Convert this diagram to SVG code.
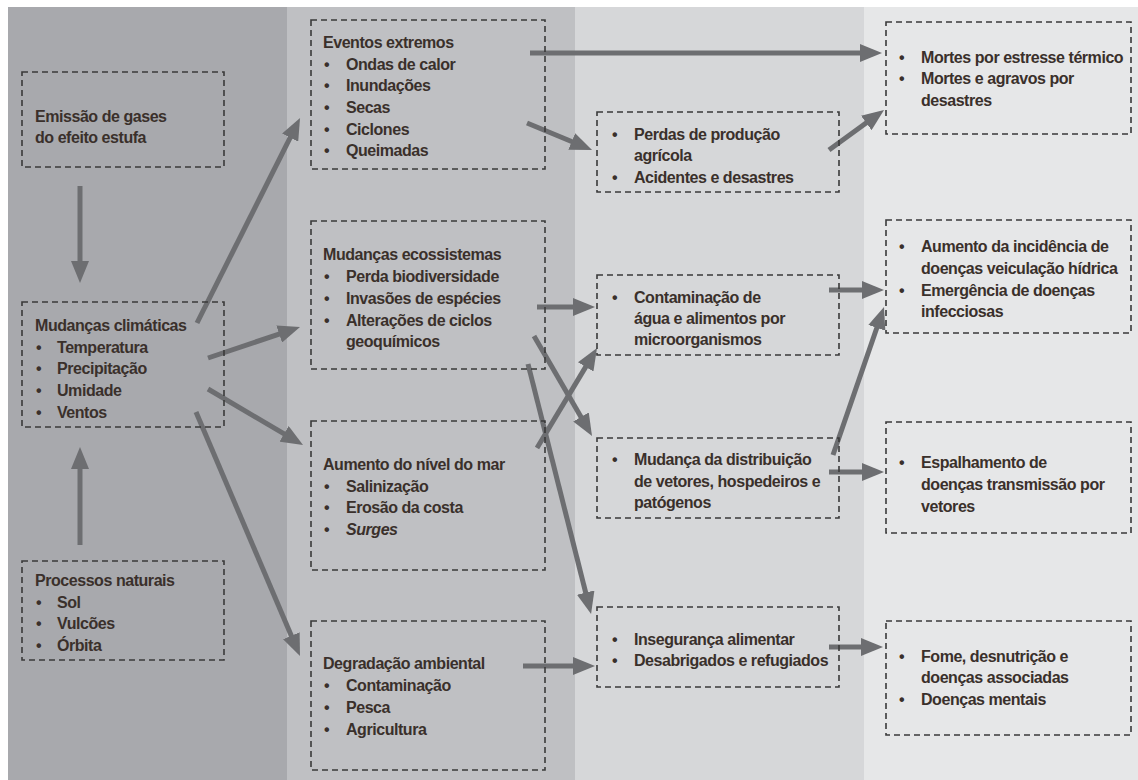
<svg xmlns="http://www.w3.org/2000/svg" width="1138" height="780" viewBox="0 0 1138 780">
<style>
  text { font-family: "Liberation Sans", Arial, sans-serif; font-weight: bold; font-size: 16px; letter-spacing: -0.45px; fill: #3a302b; }
  .box { fill: none; stroke: #3a3a3a; stroke-width: 1.6; stroke-dasharray: 6 4; }
  .arr { stroke: #6d6e71; stroke-width: 5; fill: none; marker-end: url(#ah); }
  .it { font-style: italic; }
</style>
<defs>
  <marker id="ah" markerUnits="userSpaceOnUse" markerWidth="22" markerHeight="18" refX="7" refY="9" orient="auto">
    <path d="M0,0 L22,9 L0,18 Z" fill="#6d6e71"/>
  </marker>
</defs>
<rect x="0" y="0" width="1138" height="780" fill="#ffffff"/>
<rect x="8" y="7" width="279" height="773" fill="#a8a9ad"/>
<rect x="287" y="7" width="288" height="773" fill="#bfc0c3"/>
<rect x="575" y="7" width="289" height="773" fill="#d6d7d9"/>
<rect x="864" y="7" width="274" height="773" fill="#e6e7e8"/>

<g id="connectors">
  <line class="arr" x1="80" y1="186" x2="80" y2="268"/>
  <line class="arr" x1="80" y1="545" x2="80" y2="462"/>
  <line class="arr" x1="197" y1="323" x2="293.3" y2="131.4"/>
  <line class="arr" x1="208" y1="358" x2="285.8" y2="331.8"/>
  <line class="arr" x1="208" y1="389" x2="290.1" y2="437.4"/>
  <line class="arr" x1="196" y1="412" x2="294.1" y2="642.2"/>
  <line class="arr" x1="530" y1="53" x2="867" y2="53"/>
  <line class="arr" x1="527" y1="123" x2="578.2" y2="144.2"/>
  <line class="arr" x1="829" y1="150" x2="871.9" y2="118.8"/>
  <line class="arr" x1="537" y1="307" x2="580" y2="307"/>
  <line class="arr" x1="534" y1="336" x2="584.5" y2="423"/>
  <line class="arr" x1="528" y1="364" x2="587.4" y2="599.4"/>
  <line class="arr" x1="537" y1="448" x2="589.3" y2="360.9"/>
  <line class="arr" x1="523" y1="666" x2="580" y2="666"/>
  <line class="arr" x1="829" y1="290" x2="869" y2="290"/>
  <line class="arr" x1="833" y1="455" x2="879.1" y2="321.2"/>
  <line class="arr" x1="829" y1="472" x2="869" y2="472"/>
  <line class="arr" x1="829" y1="647" x2="868" y2="647"/>
</g>

<g id="emissao">
  <rect class="box" x="22" y="72" width="202" height="95"/>
  <text x="35" y="122">Emissão de gases</text>
  <text x="35" y="143">do efeito estufa</text>
</g>
<g id="mudancas-climaticas">
  <rect class="box" x="22" y="302" width="202" height="125"/>
  <text x="35" y="331">Mudanças climáticas</text>
  <text x="36" y="353">•</text><text x="57" y="353">Temperatura</text>
  <text x="36" y="374">•</text><text x="57" y="374">Precipitação</text>
  <text x="36" y="396">•</text><text x="57" y="396">Umidade</text>
  <text x="36" y="418">•</text><text x="57" y="418">Ventos</text>
</g>
<g id="processos-naturais">
  <rect class="box" x="22" y="561" width="202" height="99"/>
  <text x="35" y="586">Processos naturais</text>
  <text x="36" y="608">•</text><text x="57" y="608">Sol</text>
  <text x="36" y="629">•</text><text x="57" y="629">Vulcões</text>
  <text x="36" y="651">•</text><text x="57" y="651">Órbita</text>
</g>

<g id="eventos-extremos">
  <rect class="box" x="311" y="20" width="234" height="149"/>
  <text x="323" y="48">Eventos extremos</text>
  <text x="324" y="69.5">•</text><text x="346" y="69.5">Ondas de calor</text>
  <text x="324" y="91">•</text><text x="346" y="91">Inundações</text>
  <text x="324" y="113">•</text><text x="346" y="113">Secas</text>
  <text x="324" y="134.5">•</text><text x="346" y="134.5">Ciclones</text>
  <text x="324" y="156">•</text><text x="346" y="156">Queimadas</text>
</g>
<g id="mudancas-ecossistemas">
  <rect class="box" x="311" y="221" width="234" height="148"/>
  <text x="323" y="260">Mudanças ecossistemas</text>
  <text x="324" y="282">•</text><text x="346" y="282">Perda biodiversidade</text>
  <text x="324" y="304">•</text><text x="346" y="304">Invasões de espécies</text>
  <text x="324" y="326">•</text><text x="346" y="326">Alterações de ciclos</text>
  <text x="346" y="347">geoquímicos</text>
</g>
<g id="aumento-nivel-mar">
  <rect class="box" x="311" y="421" width="234" height="149"/>
  <text x="323" y="470">Aumento do nível do mar</text>
  <text x="324" y="492">•</text><text x="346" y="492">Salinização</text>
  <text x="324" y="513">•</text><text x="346" y="513">Erosão da costa</text>
  <text x="324" y="535">•</text><text class="it" x="346" y="535">Surges</text>
</g>
<g id="degradacao-ambiental">
  <rect class="box" x="311" y="621" width="234" height="149"/>
  <text x="323" y="669">Degradação ambiental</text>
  <text x="324" y="691">•</text><text x="346" y="691">Contaminação</text>
  <text x="324" y="713">•</text><text x="346" y="713">Pesca</text>
  <text x="324" y="735">•</text><text x="346" y="735">Agricultura</text>
</g>

<g id="perdas">
  <rect class="box" x="597" y="112" width="242" height="80"/>
  <text x="612" y="140">•</text><text x="634" y="140">Perdas de produção</text>
  <text x="634" y="161">agrícola</text>
  <text x="612" y="183">•</text><text x="634" y="183">Acidentes e desastres</text>
</g>
<g id="contaminacao">
  <rect class="box" x="597" y="275" width="242" height="80"/>
  <text x="612" y="303">•</text><text x="634" y="303">Contaminação de</text>
  <text x="634" y="324">água e alimentos por</text>
  <text x="634" y="345">microorganismos</text>
</g>
<g id="mudanca-distribuicao">
  <rect class="box" x="597" y="438" width="242" height="80"/>
  <text x="612" y="465">•</text><text x="634" y="465">Mudança da distribuição</text>
  <text x="634" y="487">de vetores, hospedeiros e</text>
  <text x="634" y="508">patógenos</text>
</g>
<g id="inseguranca">
  <rect class="box" x="597" y="607" width="242" height="80"/>
  <text x="612" y="645">•</text><text x="634" y="645">Insegurança alimentar</text>
  <text x="612" y="666">•</text><text x="634" y="666">Desabrigados e refugiados</text>
</g>

<g id="mortes">
  <rect class="box" x="886" y="22" width="245" height="112"/>
  <text x="899" y="63">•</text><text x="921" y="63">Mortes por estresse térmico</text>
  <text x="899" y="84">•</text><text x="921" y="84">Mortes e agravos por</text>
  <text x="921" y="106">desastres</text>
</g>
<g id="aumento-incidencia">
  <rect class="box" x="886" y="220" width="245" height="113"/>
  <text x="899" y="252">•</text><text x="921" y="252">Aumento da incidência de</text>
  <text x="921" y="274">doenças veiculação hídrica</text>
  <text x="899" y="296">•</text><text x="921" y="296">Emergência de doenças</text>
  <text x="921" y="317">infecciosas</text>
</g>
<g id="espalhamento">
  <rect class="box" x="886" y="422" width="245" height="111"/>
  <text x="899" y="468">•</text><text x="921" y="468">Espalhamento de</text>
  <text x="921" y="490">doenças transmissão por</text>
  <text x="921" y="512">vetores</text>
</g>
<g id="fome">
  <rect class="box" x="886" y="621" width="245" height="114"/>
  <text x="899" y="662">•</text><text x="921" y="662">Fome, desnutrição e</text>
  <text x="921" y="683">doenças associadas</text>
  <text x="899" y="705">•</text><text x="921" y="705">Doenças mentais</text>
</g>
</svg>
